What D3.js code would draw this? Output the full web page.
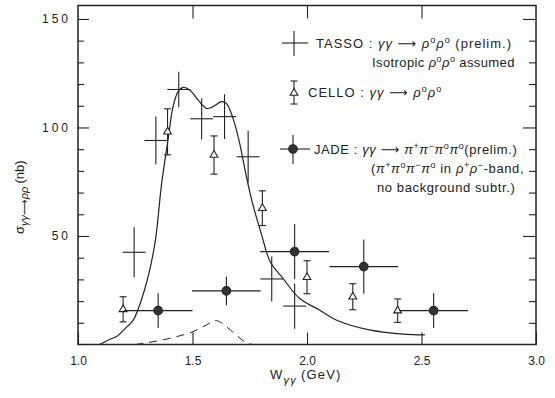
<!DOCTYPE html>
<html>
<head>
<meta charset="utf-8">
<script src="https://cdn.jsdelivr.net/npm/d3@7"></script>
<style>
  body { margin: 0; background: #fff; }
  svg text { font-family: "Liberation Sans", "DejaVu Sans", sans-serif; fill: #222; }
</style>
</head>
<body>
<div id="chart"></div>
<script>
// TASSO: gamma gamma -> rho0 rho0 (bin width 0.1 GeV)
const tassoW = [1.245, 1.34, 1.44, 1.54, 1.64, 1.743, 1.846, 1.946];
const tassoS = [42.5, 94, 117.5, 104, 105, 86.5, 30.2, 17.7];
const tassoErr = [11.5, 11, 8.2, 9.5, 10.3, 12, 10.4, 10.4];
const tassoHalf = 0.05;

// CELLO: gamma gamma -> rho0 rho0
const celloW = [1.197, 1.391, 1.594, 1.805, 2.0, 2.2, 2.396];
const celloS = [16.2, 98, 87.3, 62.8, 31, 22, 15.6];
const celloErr = [5.8, 10.6, 8.8, 8, 7.6, 6, 5.4];

// JADE: gamma gamma -> pi+ pi- pi0 pi0 (bin width 0.3 GeV)
const jadeW = [1.35, 1.648, 1.946, 2.248, 2.553];
const jadeS = [15.6, 24.7, 42.8, 35.9, 15.6];
const jadeErr = [8, 6.6, 12.7, 12.5, 8];
const jadeHalf = 0.15;

// solid model curve
const fitW = [1.095, 1.14, 1.17, 1.21, 1.24, 1.29, 1.335, 1.365, 1.394, 1.415, 1.437, 1.459, 1.488,
  1.524, 1.561, 1.59, 1.626, 1.648, 1.677, 1.706, 1.735, 1.764, 1.80, 1.84, 1.895, 1.967, 2.054,
  2.127, 2.272, 2.417, 2.515];
const fitS = [0, 2.4, 3.8, 7.8, 11, 25, 46, 74, 95, 109.6, 116.5, 118.5, 117.3,
  112.7, 108.8, 109.6, 111.9, 111.1, 104.2, 92.7, 77.5, 64.3, 51.2, 38, 30.5, 21.3, 15.9,
  11.3, 6.7, 4.8, 4.4];

// dashed curve
const dashW = [1.25, 1.30, 1.37, 1.43, 1.502, 1.561, 1.604, 1.648, 1.691, 1.735, 1.765];
const dashS = [0, 0.8, 2.1, 3.6, 5.9, 9, 11, 8.2, 4.4, 0.8, 0];

const xTicks = [1.0, 1.5, 2.0, 2.5, 3.0];
const yTicks = d3.range(10, 151, 10);

const width = 555, height = 398;
const margin = { top: 5.5, right: 19, bottom: 53.5, left: 78 };
const ink = "#222";

const svg = d3.select("#chart").append("svg")
  .attr("width", width)
  .attr("height", height);

const x = d3.scaleLinear().domain([1, 3]).range([margin.left, width - margin.right]);
const y = d3.scaleLinear().domain([0, 156.2]).range([height - margin.bottom, margin.top]);

function styleAxis(g) {
  g.select(".domain").remove();
  g.selectAll(".tick line").attr("stroke", ink).attr("stroke-width", 1.1);
  g.selectAll(".tick text").attr("fill", ink);
}

// frame
svg.append("rect")
  .attr("x", x(1)).attr("y", y(156.2))
  .attr("width", x(3) - x(1)).attr("height", y(0) - y(156.2))
  .attr("fill", "none").attr("stroke", ink).attr("stroke-width", 1.5);

// axes
svg.append("g")
  .attr("transform", `translate(0,${y(0)})`)
  .call(d3.axisBottom(x).tickValues(xTicks).tickSize(-12).tickPadding(12).tickFormat(d3.format(".1f")))
  .attr("font-size", 12)
  .call(styleAxis);

svg.append("g")
  .attr("transform", `translate(0,${y(156.2)})`)
  .call(d3.axisTop(x).tickValues([1.5, 2.0, 2.5]).tickSize(-13).tickFormat(""))
  .call(styleAxis);

svg.append("g")
  .attr("transform", `translate(${x(1)},0)`)
  .call(d3.axisLeft(y).tickValues(yTicks).tickSize(-6).tickPadding(10)
    .tickFormat(d => d % 50 === 0 ? d : ""))
  .attr("font-size", 12)
  .call(styleAxis)
  .call(g => g.selectAll(".tick text").attr("letter-spacing", 3).attr("dx", 3))
  .call(g => g.selectAll(".tick line").filter(d => d % 50 === 0).attr("x2", 11));

svg.append("g")
  .attr("transform", `translate(${x(3)},0)`)
  .call(d3.axisRight(y).tickValues(yTicks).tickSize(-7).tickFormat(""))
  .call(styleAxis)
  .call(g => g.selectAll(".tick line").filter(d => d % 50 === 0).attr("x2", -13));

// axis titles
const xt = svg.append("text")
  .attr("x", 270).attr("y", 379)
  .attr("font-size", 13).attr("letter-spacing", 1.2);
xt.append("tspan").text("W");
xt.append("tspan").attr("dy", 5).attr("font-size", 11).attr("font-style", "italic").text("γγ");
xt.append("tspan").attr("dy", -5).attr("dx", 4).text("(GeV)");

const yt = svg.append("text")
  .attr("transform", "translate(24,234) rotate(-90)")
  .attr("font-size", 13);
yt.append("tspan").text("σ");
yt.append("tspan").attr("dy", 4).attr("font-size", 11).attr("font-style", "italic").text("γγ⟶ρρ");
yt.append("tspan").attr("dy", -4).attr("dx", 3).attr("font-size", 13).text("(nb)");

// curves
const line = d3.line().x(d => x(d[0])).y(d => y(d[1])).curve(d3.curveCatmullRom.alpha(0.5));

svg.append("path")
  .datum(d3.zip(fitW, fitS))
  .attr("d", line)
  .attr("fill", "none").attr("stroke", ink).attr("stroke-width", 1.2);

svg.append("path")
  .datum(d3.zip(dashW, dashS))
  .attr("d", line)
  .attr("fill", "none").attr("stroke", ink).attr("stroke-width", 1)
  .attr("stroke-dasharray", "8,6");

// TASSO crosses
const tasso = svg.append("g").attr("stroke", ink).attr("stroke-width", 1.1);
tassoW.forEach((w, i) => {
  tasso.append("line")
    .attr("x1", x(w - tassoHalf)).attr("x2", x(w + tassoHalf))
    .attr("y1", y(tassoS[i])).attr("y2", y(tassoS[i]));
  tasso.append("line")
    .attr("x1", x(w)).attr("x2", x(w))
    .attr("y1", y(tassoS[i] - tassoErr[i])).attr("y2", y(tassoS[i] + tassoErr[i]));
});

// CELLO open triangles with capped error bars
const tri = d3.symbol().type(d3.symbolTriangle).size(26);
const cello = svg.append("g").attr("stroke", ink).attr("stroke-width", 1.1);
celloW.forEach((w, i) => {
  const cx = x(w), lo = y(celloS[i] - celloErr[i]), hi = y(celloS[i] + celloErr[i]);
  cello.append("line").attr("x1", cx).attr("x2", cx).attr("y1", lo).attr("y2", hi);
  cello.append("line").attr("x1", cx - 3.5).attr("x2", cx + 3.5).attr("y1", lo).attr("y2", lo);
  cello.append("line").attr("x1", cx - 3.5).attr("x2", cx + 3.5).attr("y1", hi).attr("y2", hi);
  cello.append("path").attr("d", tri)
    .attr("transform", `translate(${cx},${y(celloS[i])})`)
    .attr("fill", "#fff");
});

// JADE filled circles
const jade = svg.append("g").attr("stroke", ink).attr("stroke-width", 1.1);
jadeW.forEach((w, i) => {
  jade.append("line")
    .attr("x1", x(w - jadeHalf)).attr("x2", x(w + jadeHalf))
    .attr("y1", y(jadeS[i])).attr("y2", y(jadeS[i]));
  jade.append("line")
    .attr("x1", x(w)).attr("x2", x(w))
    .attr("y1", y(jadeS[i] - jadeErr[i])).attr("y2", y(jadeS[i] + jadeErr[i]));
  jade.append("circle")
    .attr("cx", x(w)).attr("cy", y(jadeS[i])).attr("r", 4.3)
    .attr("fill", "#333");
});

// legend
const lg = svg.append("g").attr("stroke", ink).attr("stroke-width", 1.1);
lg.append("line").attr("x1", 282).attr("x2", 308).attr("y1", 43).attr("y2", 43);
lg.append("line").attr("x1", 294).attr("x2", 294).attr("y1", 31).attr("y2", 56);
lg.append("line").attr("x1", 294).attr("x2", 294).attr("y1", 81).attr("y2", 104);
lg.append("line").attr("x1", 290.5).attr("x2", 297.5).attr("y1", 81).attr("y2", 81);
lg.append("line").attr("x1", 290.5).attr("x2", 297.5).attr("y1", 104).attr("y2", 104);
lg.append("path").attr("d", tri).attr("transform", "translate(294,93)").attr("fill", "#fff");
lg.append("line").attr("x1", 280).attr("x2", 310).attr("y1", 149).attr("y2", 149);
lg.append("line").attr("x1", 293).attr("x2", 293).attr("y1", 135).attr("y2", 164);
lg.append("circle").attr("cx", 293).attr("cy", 149).attr("r", 4.3).attr("fill", "#333");

const legendText = [
  { x: 316, y: 48, ls: 1, parts: [["TASSO : ", ""], ["γγ", "i"], [" ⟶ ", ""], ["ρ", "i"], ["o", "s"], ["ρ", "i"], ["o", "s"], [" (prelim.)", ""]] },
  { x: 372, y: 67, ls: 0.4, parts: [["Isotropic ", ""], ["ρ", "i"], ["o", "s"], ["ρ", "i"], ["o", "s"], [" assumed", ""]] },
  { x: 308, y: 97, ls: 1, parts: [["CELLO : ", ""], ["γγ", "i"], [" ⟶ ", ""], ["ρ", "i"], ["o", "s"], ["ρ", "i"], ["o", "s"]] },
  { x: 314, y: 154, ls: 0.6, parts: [["JADE : ", ""], ["γγ", "i"], [" ⟶ ", ""], ["π", "i"], ["+", "s"], ["π", "i"], ["−", "s"], ["π", "i"], ["o", "s"], ["π", "i"], ["o", "s"], ["(prelim.)", ""]] },
  { x: 371, y: 173, ls: 0.6, parts: [["(", ""], ["π", "i"], ["+", "s"], ["π", "i"], ["o", "s"], ["π", "i"], ["−", "s"], ["π", "i"], ["o", "s"], [" in ", ""], ["ρ", "i"], ["+", "s"], ["ρ", "i"], ["−", "s"], ["-band,", ""]] },
  { x: 377, y: 192, ls: 0.6, parts: [["no  background  subtr.)", ""]] }
];

legendText.forEach(t => {
  const el = svg.append("text").attr("x", t.x).attr("y", t.y)
    .attr("font-size", 13).attr("letter-spacing", t.ls);
  t.parts.forEach(([s, k]) => {
    const sp = el.append("tspan").text(s);
    if (k === "i") sp.attr("font-style", "italic");
    if (k === "s") sp.attr("baseline-shift", "super").attr("font-size", 9);
  });
});
</script>
</body>
</html>
